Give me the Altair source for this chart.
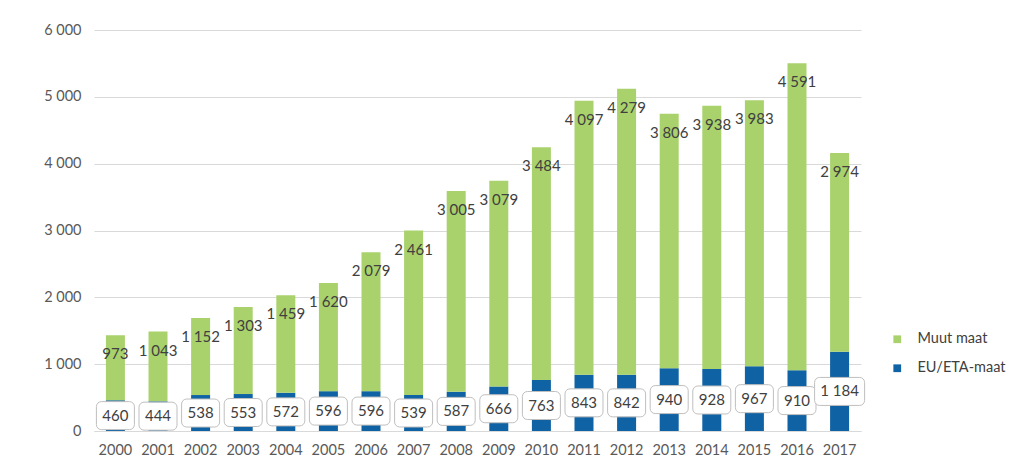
import altair as alt
import pandas as pd

years = [str(y) for y in range(2000, 2018)]
eu_eta = [460, 444, 538, 553, 572, 596, 596, 539, 587, 666, 763, 843, 842, 940, 928, 967, 910, 1184]
muut = [973, 1043, 1152, 1303, 1459, 1620, 2079, 2461, 3005, 3079, 3484, 4097, 4279, 3806, 3938, 3983, 4591, 2974]

series_names = ["Muut maat", "EU/ETA-maat"]
series_colors = ["#a9d26c", "#0f62a3"]

def fmt(v):
    return f"{v:,}".replace(",", " ")

rows = []
for y, e, m in zip(years, eu_eta, muut):
    rows.append({"year": y, "series": "EU/ETA-maat", "start": 0, "end": e, "order": 0})
    rows.append({"year": y, "series": "Muut maat", "start": e, "end": e + m, "order": 1})
bars_df = pd.DataFrame(rows)

lab = pd.DataFrame({
    "year": years,
    "eu": eu_eta,
    "total": [e + m for e, m in zip(eu_eta, muut)],
    "eu_mid": [e / 2 for e in eu_eta],
    "eu_txt": [fmt(e) for e in eu_eta],
    "m_txt": [fmt(m) for m in muut],
    "boxw": [50 if e >= 1000 else 38 for e in eu_eta],
})
# box half height in data units (~14px)
half = 14 / 401 * 6000
lab["box_lo"] = lab["eu_mid"] - half
lab["box_hi"] = lab["eu_mid"] + half

FONT = "Lato"
x_enc = alt.X("year:N", sort=years, title=None,
              scale=alt.Scale(paddingInner=0.555, paddingOuter=0.28),
              axis=alt.Axis(labelAngle=0, labelFontSize=14.5, labelColor="#595959", labelFont=FONT,
                            ticks=False, domain=True, domainColor="#d9d9d9", labelPadding=12))
y_scale = alt.Scale(domain=[0, 6000], nice=False)

bars = alt.Chart(bars_df).mark_bar(size=19).encode(
    x=x_enc,
    y=alt.Y("start:Q", scale=y_scale, title=None,
            axis=alt.Axis(values=[0, 1000, 2000, 3000, 4000, 5000, 6000],
                          labelExpr="replace(format(datum.value, ',d'), ',', ' ')",
                          labelFontSize=14.5, labelColor="#595959", labelFont=FONT,
                          ticks=False, domain=False, grid=True, gridColor="#d9d9d9",
                          labelPadding=13)),
    y2="end:Q",
    color=alt.Color("series:N", scale=alt.Scale(domain=series_names, range=series_colors),
                    legend=alt.Legend(title=None, orient="none", legendX=796, legendY=302,
                                      symbolType="square", symbolSize=60, labelFontSize=14.5,
                                      labelFont=FONT, labelColor="#404040", rowPadding=14,
                                      symbolStrokeWidth=0, labelOffset=13)),
)

boxes = alt.Chart(lab).mark_bar(fill="white", stroke="#bfbfbf", strokeWidth=1, cornerRadius=5).encode(
    x=alt.X("year:N", sort=years),
    y=alt.Y("box_lo:Q", scale=y_scale),
    y2="box_hi:Q",
    size=alt.Size("boxw:Q", scale=None, legend=None),
)

eu_text = alt.Chart(lab).mark_text(fontSize=15, font=FONT, color="#404040", baseline="middle").encode(
    x=alt.X("year:N", sort=years),
    y=alt.Y("eu_mid:Q", scale=y_scale),
    text="eu_txt:N",
)

m_text = alt.Chart(lab).mark_text(fontSize=15, font=FONT, color="#404040", baseline="middle", dy=19).encode(
    x=alt.X("year:N", sort=years),
    y=alt.Y("total:Q", scale=y_scale),
    text="m_txt:N",
)

chart = alt.layer(bars, boxes, eu_text, m_text).properties(
    width=767, height=401,
    autosize=alt.AutoSizeParams(type="none"),
    padding={"left": 86, "top": 22, "right": 155, "bottom": 28},
).configure(background="white").configure_view(stroke=None)

chart.save("out.html", embed_options={"renderer": "svg", "actions": False})
